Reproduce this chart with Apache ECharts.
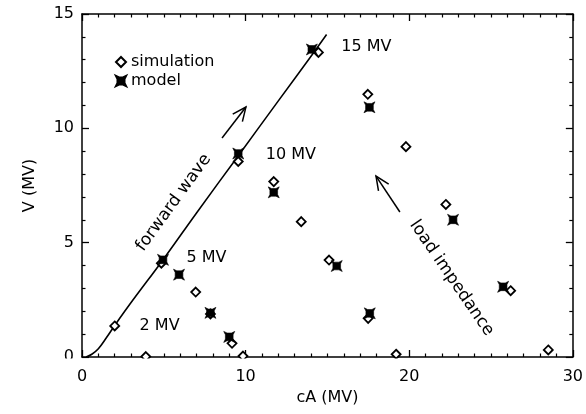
<!DOCTYPE html>
<html><head><meta charset="utf-8">
<script src="https://cdn.jsdelivr.net/npm/echarts@6/dist/echarts.min.js"></script>
<style>html,body{margin:0;padding:0;background:#fff}#c{width:586px;height:414px}</style>
</head><body><div id="c"></div>
<script>
// ---- data ----
const simX = [2.0, 3.9, 4.85, 6.95, 7.85, 9.17, 9.84, 9.55, 11.72, 13.4, 14.45, 15.1, 17.47, 17.49, 19.2, 19.8, 22.24, 26.2, 28.5];
const simY = [1.36, 0.02, 4.1, 2.84, 1.88, 0.6, 0.04, 8.55, 7.67, 5.92, 13.32, 4.24, 11.49, 1.69, 0.12, 9.2, 6.67, 2.9, 0.31];
const modelX = [4.95, 5.93, 7.85, 9.0, 9.55, 11.72, 14.05, 15.57, 17.57, 17.59, 22.68, 25.74];
const modelY = [4.25, 3.6, 1.93, 0.88, 8.9, 7.2, 13.45, 3.98, 10.92, 1.91, 6.0, 3.07];
const curveX = [0.25, 0.6, 1.0, 1.5, 2.0, 3.0, 5.0, 7.0, 9.5, 12.0, 14.3, 14.95];
const curveY = [0.0, 0.12, 0.36, 0.85, 1.38, 2.38, 4.3, 6.3, 8.75, 11.2, 13.45, 14.1];
const xTicks = [0, 10, 20, 30];
const yTicks = [0, 5, 10, 15];
const seriesNames = ['simulation', 'model'];
const axisNames = ['cA (MV)', 'V (MV)'];
const labelText = ['15 MV', '10 MV', '5 MV', '2 MV'];
const labelX = [15.85, 11.23, 6.38, 3.52];
const labelY = [13.55, 8.83, 4.33, 1.36];
const noteText = ['forward wave', 'load impedance'];
const noteX = [5.6, 22.59];
const noteY = [6.75, 3.45];
const noteAngle = [54, -55.6];
const arrowFromX = [8.56, 19.43];
const arrowFromY = [9.58, 6.34];
const arrowToX = [10.02, 17.97];
const arrowToY = [10.93, 7.91];

// ---- chart ----
const FONT = '"DejaVu Sans", sans-serif';
const chart = echarts.init(document.getElementById('c'));
const zip = (a, b) => a.map((v, i) => [v, b[i]]);
const starPath = 'path://M0,0 L3,1.5 L7,1.5 L10,0 L8.5,3 L8.5,7 L10,10 L7,8.5 L3,8.5 L0,10 L1.5,7 L1.5,3 Z';

function axisCommon(ticks, minorSplit) {
  return {
    type: 'value', gridIndex: 0,
    min: ticks[0], max: ticks[ticks.length - 1], interval: ticks[1] - ticks[0],
    axisLine: { show: true, onZero: false, lineStyle: { color: '#000', width: 1.5 } },
    axisTick: { show: true, inside: true, length: 7, lineStyle: { color: '#000', width: 1.3 } },
    minorTick: { show: true, splitNumber: minorSplit, length: 3.5, lineStyle: { color: '#000', width: 1.2 } },
    splitLine: { show: false },
    axisLabel: { color: '#000', fontSize: 16, fontFamily: FONT }
  };
}

const xBottom = Object.assign(axisCommon(xTicks, 10), {
  position: 'bottom', name: axisNames[0], nameLocation: 'middle', nameGap: 31,
  nameTextStyle: { color: '#000', fontSize: 16, fontFamily: FONT }
});
xBottom.axisLabel.margin = 12;
const xTop = Object.assign(axisCommon(xTicks, 10), { position: 'top' });
xTop.axisLabel = { show: false };
const yLeft = Object.assign(axisCommon(yTicks, 5), {
  position: 'left', name: axisNames[1], nameLocation: 'middle', nameGap: 44, nameRotate: 90,
  nameTextStyle: { color: '#000', fontSize: 16, fontFamily: FONT }
});
yLeft.axisLabel.margin = 8;
const yRight = Object.assign(axisCommon(yTicks, 5), { position: 'right' });
yRight.axisLabel = { show: false };

chart.setOption({
  animation: false,
  backgroundColor: '#fff',
  grid: { left: 82, right: 10, top: 14, bottom: 57, containLabel: false },
  xAxis: [xBottom, xTop],
  yAxis: [yLeft, yRight],
  legend: {
    data: seriesNames, orient: 'vertical', left: 110, top: 49,
    itemWidth: 10, itemHeight: 10, itemGap: 3,
    textStyle: { color: '#000', fontSize: 16, fontFamily: FONT }
  },
  graphic: [{
    type: 'rect', z: 10, silent: true,
    shape: { x: 60, y: 358.4, width: 526, height: 8 },
    style: { fill: '#fff' }
  }],
  series: [
    {
      type: 'line', name: 'forward wave curve', data: zip(curveX, curveY),
      smooth: 0.4, showSymbol: false, symbol: 'none',
      lineStyle: { color: '#000', width: 1.6 }, z: 1, silent: true
    },
    {
      type: 'scatter', name: seriesNames[0], data: zip(simX, simY),
      symbol: 'diamond', symbolSize: 9,
      itemStyle: { color: '#fff', borderColor: '#000', borderWidth: 1.8, opacity: 1 }, z: 3
    },
    {
      type: 'scatter', name: seriesNames[1], data: zip(modelX, modelY),
      symbol: starPath, symbolSize: 11,
      itemStyle: { color: '#000', borderColor: '#000', borderWidth: 0.6, opacity: 1 }, z: 4
    },
    {
      type: 'custom', name: 'labels', silent: true, z: 5,
      data: labelX.map((x, i) => [x, labelY[i], i]),
      encode: { x: 0, y: 1 },
      renderItem: (params, api) => {
        const p = api.coord([api.value(0), api.value(1)]);
        return { type: 'text', x: p[0], y: p[1],
          style: { text: labelText[api.value(2)], fill: '#000', font: '16px ' + FONT, align: 'left', verticalAlign: 'middle' } };
      }
    },
    {
      type: 'custom', name: 'notes', silent: true, z: 5,
      data: noteX.map((x, i) => [x, noteY[i], i]),
      encode: { x: 0, y: 1 },
      renderItem: (params, api) => {
        const i = api.value(2);
        const p = api.coord([api.value(0), api.value(1)]);
        return { type: 'text', x: p[0], y: p[1], rotation: noteAngle[i] * Math.PI / 180,
          style: { text: noteText[i], fill: '#000', font: '17px ' + FONT, align: 'center', verticalAlign: 'middle' } };
      }
    },
    {
      type: 'custom', name: 'arrows', silent: true, z: 5,
      data: arrowFromX.map((x, i) => [x, arrowFromY[i], arrowToX[i], arrowToY[i]]),
      encode: { x: [0, 2], y: [1, 3] },
      renderItem: (params, api) => {
        const a = api.coord([api.value(0), api.value(1)]);
        const b = api.coord([api.value(2), api.value(3)]);
        const ang = Math.atan2(b[1] - a[1], b[0] - a[0]);
        const L = 15, s = 0.42;
        const h1 = [b[0] - L * Math.cos(ang - s), b[1] - L * Math.sin(ang - s)];
        const h2 = [b[0] - L * Math.cos(ang + s), b[1] - L * Math.sin(ang + s)];
        return { type: 'group', children: [
          { type: 'line', shape: { x1: a[0], y1: a[1], x2: b[0], y2: b[1] }, style: { stroke: '#000', lineWidth: 1.5 } },
          { type: 'polyline', shape: { points: [h1, b, h2] }, style: { stroke: '#000', fill: null, lineWidth: 1.5 } }
        ] };
      }
    }
  ]
});
</script></body></html>
